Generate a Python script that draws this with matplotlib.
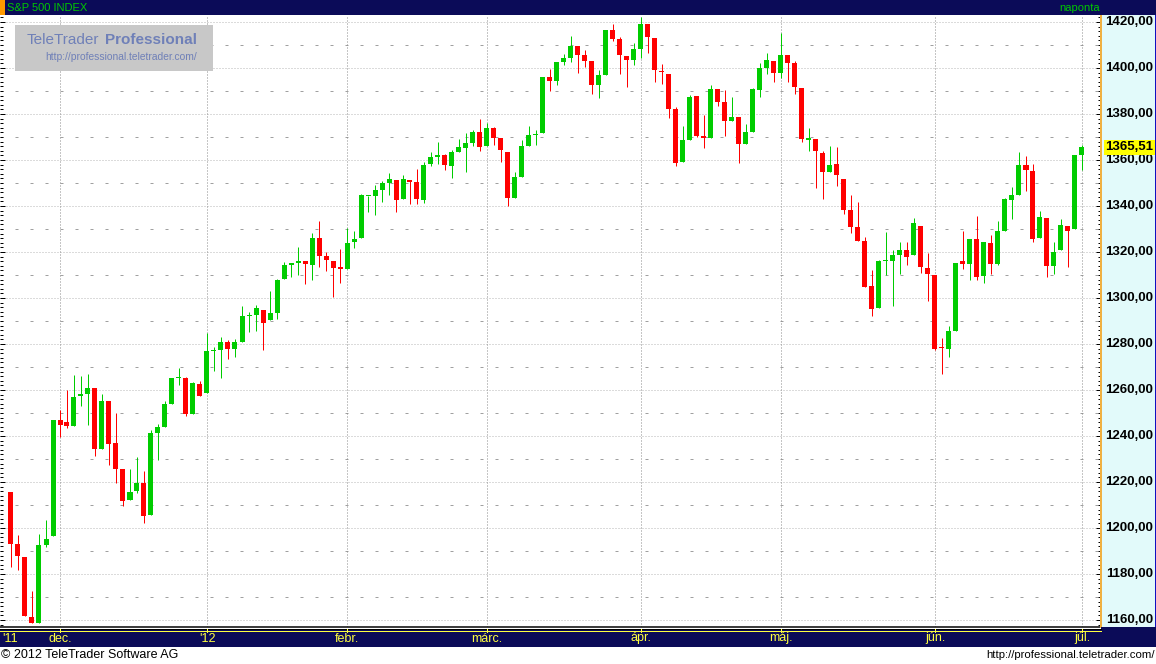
import matplotlib
matplotlib.use('Agg')
import matplotlib.pyplot as plt
from matplotlib.patches import Rectangle
from matplotlib.ticker import MultipleLocator

plt.rcParams['font.family'] = ['Liberation Sans', 'DejaVu Sans']

W, H, DPI = 1156, 664, 100

# daily S&P 500 candles, 21 Nov 2011 .. 2 Jul 2012
dates = [
    '2011-11-21', '2011-11-22', '2011-11-23', '2011-11-25', '2011-11-28', '2011-11-29', '2011-11-30',
    '2011-12-01', '2011-12-02', '2011-12-05', '2011-12-06', '2011-12-07', '2011-12-08', '2011-12-09',
    '2011-12-12', '2011-12-13', '2011-12-14', '2011-12-15', '2011-12-16', '2011-12-19', '2011-12-20',
    '2011-12-21', '2011-12-22', '2011-12-23', '2011-12-27', '2011-12-28', '2011-12-29', '2011-12-30',
    '2012-01-03', '2012-01-04', '2012-01-05', '2012-01-06', '2012-01-09', '2012-01-10', '2012-01-11',
    '2012-01-12', '2012-01-13', '2012-01-17', '2012-01-18', '2012-01-19', '2012-01-20', '2012-01-23',
    '2012-01-24', '2012-01-25', '2012-01-26', '2012-01-27', '2012-01-30', '2012-01-31',
    '2012-02-01', '2012-02-02', '2012-02-03', '2012-02-06', '2012-02-07', '2012-02-08', '2012-02-09',
    '2012-02-10', '2012-02-13', '2012-02-14', '2012-02-15', '2012-02-16', '2012-02-17', '2012-02-21',
    '2012-02-22', '2012-02-23', '2012-02-24', '2012-02-27', '2012-02-28', '2012-02-29',
    '2012-03-01', '2012-03-02', '2012-03-05', '2012-03-06', '2012-03-07', '2012-03-08', '2012-03-09',
    '2012-03-12', '2012-03-13', '2012-03-14', '2012-03-15', '2012-03-16', '2012-03-19', '2012-03-20',
    '2012-03-21', '2012-03-22', '2012-03-23', '2012-03-26', '2012-03-27', '2012-03-28', '2012-03-29',
    '2012-03-30',
    '2012-04-02', '2012-04-03', '2012-04-04', '2012-04-05', '2012-04-09', '2012-04-10', '2012-04-11',
    '2012-04-12', '2012-04-13', '2012-04-16', '2012-04-17', '2012-04-18', '2012-04-19', '2012-04-20',
    '2012-04-23', '2012-04-24', '2012-04-25', '2012-04-26', '2012-04-27', '2012-04-30',
    '2012-05-01', '2012-05-02', '2012-05-03', '2012-05-04', '2012-05-07', '2012-05-08', '2012-05-09',
    '2012-05-10', '2012-05-11', '2012-05-14', '2012-05-15', '2012-05-16', '2012-05-17', '2012-05-18',
    '2012-05-21', '2012-05-22', '2012-05-23', '2012-05-24', '2012-05-25', '2012-05-29', '2012-05-30',
    '2012-05-31',
    '2012-06-01', '2012-06-04', '2012-06-05', '2012-06-06', '2012-06-07', '2012-06-08', '2012-06-11',
    '2012-06-12', '2012-06-13', '2012-06-14', '2012-06-15', '2012-06-18', '2012-06-19', '2012-06-20',
    '2012-06-21', '2012-06-22', '2012-06-25', '2012-06-26', '2012-06-27', '2012-06-28', '2012-06-29',
    '2012-07-02',
]

opens = [
    1215.62, 1192.98, 1187.48, 1161.41, 1158.67, 1192.56, 1196.72,
    1246.91, 1246.03, 1244.33, 1257.19, 1258.14, 1260.87, 1234.48, 1255.05, 1236.83, 1225.73, 1212.12,
    1216.09, 1219.74, 1205.72, 1241.25, 1243.72, 1254.00, 1265.02, 1265.38, 1249.75, 1262.82,
    1258.86, 1277.03, 1277.30, 1280.93, 1277.83, 1280.77, 1292.02, 1292.48, 1294.82, 1290.22, 1293.65,
    1308.07, 1314.49, 1315.29, 1315.96, 1314.40, 1326.28, 1318.25, 1316.16, 1313.53,
    1312.45, 1324.24, 1326.21, 1344.32, 1344.33, 1347.04, 1349.97, 1351.21, 1343.06, 1351.30, 1350.52,
    1342.61, 1358.06, 1361.22, 1362.11, 1357.53, 1363.46, 1365.20, 1367.56, 1372.20,
    1365.90, 1374.09, 1369.59, 1363.63, 1343.39, 1352.65, 1365.97, 1370.78, 1371.92, 1395.95, 1394.17,
    1402.55, 1404.17, 1409.59, 1405.52, 1402.89, 1392.78, 1397.11, 1416.55, 1412.52, 1405.39, 1403.31,
    1408.47, 1418.98, 1413.09, 1398.79, 1397.45, 1382.18, 1358.98, 1368.77, 1387.61, 1370.27, 1369.57,
    1390.78, 1385.08, 1376.96, 1378.53, 1366.97, 1372.11, 1390.64, 1400.19, 1403.26,
    1397.86, 1405.50, 1402.32, 1391.51, 1368.79, 1369.16, 1363.20, 1354.58, 1358.11, 1351.93, 1338.36,
    1330.78, 1324.82, 1305.05, 1295.73, 1316.09, 1316.02, 1318.72, 1320.81, 1318.90, 1331.25, 1313.09,
    1309.87, 1278.29, 1277.82, 1285.61, 1316.15, 1314.99, 1325.72, 1309.40, 1324.02, 1314.88, 1329.19,
    1342.42, 1344.83, 1358.04, 1355.43, 1325.92, 1334.90, 1314.09, 1320.71, 1331.52, 1330.12,
    1362.33,
]

highs = [
    1215.62, 1196.81, 1187.48, 1172.66, 1197.35, 1203.67, 1247.11,
    1251.09, 1260.08, 1266.73, 1266.03, 1267.06, 1260.87, 1258.25, 1255.05, 1249.86, 1225.73, 1225.60,
    1231.04, 1224.57, 1242.82, 1245.09, 1255.22, 1265.42, 1269.37, 1265.85, 1263.54, 1264.12,
    1284.62, 1278.73, 1283.05, 1281.84, 1281.99, 1296.46, 1293.80, 1296.82, 1294.82, 1303.00, 1308.11,
    1315.49, 1315.38, 1322.28, 1315.96, 1328.30, 1333.47, 1320.06, 1316.16, 1321.41,
    1330.52, 1329.19, 1345.34, 1344.36, 1349.24, 1351.00, 1354.32, 1351.21, 1353.35, 1351.30, 1355.87,
    1359.02, 1363.40, 1367.76, 1362.70, 1364.24, 1368.92, 1371.94, 1373.09, 1378.04,
    1376.17, 1374.53, 1369.59, 1363.63, 1354.85, 1368.72, 1374.76, 1373.04, 1396.13, 1399.42, 1402.63,
    1405.88, 1414.00, 1409.59, 1407.75, 1402.89, 1399.18, 1416.58, 1419.15, 1413.65, 1405.39, 1410.89,
    1422.38, 1419.00, 1413.09, 1401.60, 1397.45, 1383.01, 1374.71, 1388.13, 1387.61, 1379.66, 1392.76,
    1390.78, 1390.46, 1387.40, 1378.53, 1375.57, 1391.37, 1402.09, 1406.64, 1403.26,
    1415.32, 1405.50, 1403.07, 1391.51, 1373.91, 1369.16, 1363.73, 1365.88, 1365.66, 1351.93, 1344.94,
    1341.78, 1326.36, 1312.24, 1316.39, 1328.49, 1320.71, 1324.14, 1324.20, 1334.93, 1331.25, 1319.74,
    1309.87, 1282.55, 1287.62, 1315.13, 1329.05, 1325.81, 1335.52, 1324.31, 1327.28, 1333.68, 1343.32,
    1348.22, 1363.46, 1361.57, 1358.27, 1337.82, 1334.90, 1324.24, 1334.40, 1331.52, 1362.17,
    1366.35,
]

lows = [
    1183.16, 1181.65, 1161.79, 1158.66, 1158.67, 1191.80, 1196.72,
    1239.73, 1243.35, 1244.33, 1253.03, 1244.80, 1231.47, 1234.48, 1227.25, 1219.43, 1209.47, 1212.12,
    1215.20, 1202.37, 1205.72, 1229.51, 1243.72, 1254.00, 1262.30, 1248.64, 1249.75, 1257.46,
    1258.86, 1268.10, 1265.26, 1273.34, 1274.55, 1280.77, 1285.41, 1285.77, 1277.58, 1290.22, 1290.99,
    1308.07, 1309.17, 1309.89, 1306.06, 1307.65, 1313.60, 1311.72, 1300.49, 1306.69,
    1312.45, 1321.57, 1326.21, 1337.52, 1335.92, 1341.95, 1344.63, 1337.35, 1343.06, 1340.83, 1340.80,
    1341.22, 1357.24, 1358.11, 1355.53, 1352.28, 1363.46, 1354.92, 1365.97, 1363.81,
    1365.90, 1366.42, 1359.13, 1340.03, 1343.39, 1352.65, 1365.97, 1366.69, 1371.92, 1389.97, 1392.78,
    1401.47, 1402.43, 1397.68, 1400.64, 1388.73, 1386.87, 1397.11, 1411.95, 1397.20, 1391.56, 1401.42,
    1404.46, 1406.46, 1394.09, 1392.92, 1378.24, 1357.38, 1358.98, 1368.77, 1369.85, 1365.38, 1369.57,
    1383.29, 1370.30, 1376.96, 1358.79, 1366.82, 1372.11, 1387.28, 1397.31, 1394.00,
    1395.73, 1393.92, 1388.71, 1367.96, 1363.94, 1347.75, 1343.13, 1354.58, 1348.89, 1336.61, 1328.41,
    1324.79, 1304.86, 1291.98, 1295.73, 1310.04, 1296.53, 1310.50, 1314.23, 1318.90, 1310.76, 1298.90,
    1277.25, 1266.74, 1274.16, 1285.61, 1312.68, 1307.77, 1307.73, 1306.62, 1310.51, 1314.14, 1329.19,
    1334.46, 1344.83, 1346.45, 1324.41, 1325.92, 1309.27, 1310.30, 1320.71, 1313.29, 1330.12,
    1355.70,
]

closes = [
    1192.98, 1188.04, 1161.79, 1158.67, 1192.55, 1195.19, 1246.96,
    1244.58, 1244.28, 1257.08, 1258.47, 1261.01, 1234.35, 1255.19, 1236.47, 1225.73, 1211.82, 1215.75,
    1219.66, 1205.35, 1241.30, 1243.72, 1254.00, 1265.33, 1265.43, 1249.64, 1263.02, 1257.60,
    1277.06, 1277.30, 1281.06, 1277.81, 1280.70, 1292.08, 1292.48, 1295.50, 1289.09, 1293.67, 1308.04,
    1314.50, 1315.38, 1316.00, 1314.65, 1326.06, 1318.43, 1316.33, 1313.01, 1312.41,
    1324.09, 1325.54, 1344.90, 1344.33, 1347.05, 1349.96, 1351.95, 1342.64, 1351.77, 1350.50, 1343.23,
    1358.04, 1361.23, 1362.21, 1357.66, 1363.46, 1365.74, 1367.59, 1372.18, 1365.68,
    1374.09, 1369.63, 1364.33, 1343.36, 1352.63, 1365.91, 1370.87, 1371.09, 1395.95, 1394.28, 1402.60,
    1404.17, 1409.75, 1405.52, 1402.89, 1392.78, 1397.11, 1416.51, 1412.52, 1405.54, 1403.28, 1408.47,
    1419.04, 1413.38, 1398.96, 1398.08, 1382.20, 1358.59, 1368.71, 1387.57, 1370.26, 1369.57, 1390.78,
    1385.14, 1376.92, 1378.53, 1366.94, 1371.97, 1390.69, 1399.98, 1403.36, 1397.91,
    1405.82, 1402.31, 1391.57, 1369.10, 1369.58, 1363.72, 1354.58, 1357.99, 1353.39, 1338.35, 1330.66,
    1324.80, 1304.86, 1295.22, 1315.99, 1316.63, 1318.86, 1320.68, 1317.82, 1332.42, 1313.32, 1310.33,
    1278.04, 1278.18, 1285.50, 1315.13, 1314.99, 1325.66, 1308.93, 1324.18, 1314.88, 1329.10, 1342.84,
    1344.78, 1357.98, 1355.69, 1325.51, 1335.02, 1313.72, 1319.99, 1331.85, 1329.04, 1362.16,
    1365.51,
]

month_names = {12: 'dec.', 1: "'12", 2: 'febr.', 3: 'márc.', 4: 'ápr.', 5: 'máj.', 6: 'jún.', 7: 'júl.'}
price_ticks = list(range(1160, 1421, 20))
last_price = closes[-1]

NAVY = '#0b0b58'
UP, DOWN = '#00cc00', '#ff0000'
PX = 72 / DPI  # one pixel in points

# pixel -> data mapping of the main panel
x0px, x_step = 11, 7.0
y1420, y_scale = 22, 2.3


def box(l, t, r, b):
    return [l / W, 1 - b / H, (r - l) / W, (b - t) / H]


def xdata(px):
    return (px - x0px) / x_step


def ydata(py):
    return 1420 - (py - y1420) / y_scale


fig = plt.figure(figsize=(W / DPI, H / DPI), dpi=DPI)
fig.patch.set_facecolor('white')

# main candle panel
ax = fig.add_axes(box(0, 15, 1101, 627))
ax.set_xlim(xdata(0), xdata(1101))
ax.set_ylim(ydata(627), ydata(15))
for s in ['left', 'top', 'right']:
    ax.spines[s].set_visible(False)
ax.spines['bottom'].set_linewidth(1.5 * PX)
ax.spines['bottom'].set_color('black')

ax.yaxis.set_major_locator(MultipleLocator(20))
ax.yaxis.set_minor_locator(MultipleLocator(2))
ax.tick_params(axis='y', which='major', direction='in', length=5 * PX, width=PX,
               left=True, right=True, labelleft=False, labelright=False)
ax.tick_params(axis='y', which='minor', direction='in', length=3 * PX, width=PX,
               left=True, right=True)
ax.set_xticks([])

# grid lines
for p in price_ticks:
    ax.axhline(p, color='#b8b8b8', lw=PX, ls=(0, (1, 2)), zorder=0)
for p in range(1170, 1420, 20):
    ax.axhline(p, color='#a0a0a0', lw=PX, ls=(0, (3, 12)), zorder=0)

month_idx = []
for i in range(1, len(dates)):
    if dates[i][5:7] != dates[i - 1][5:7]:
        month_idx.append(i)
for i in month_idx:
    ax.axvline(i, color='#8c8c8c', lw=PX, ls=(0, (1, 2)), zorder=0)

# candles
xs = list(range(len(dates)))
cols = [UP if c >= o else DOWN for o, c in zip(opens, closes)]
ax.vlines(xs, lows, highs, colors=cols, lw=PX, zorder=2)
bottoms = [min(o, c) for o, c in zip(opens, closes)]
heights = [max(abs(c - o), 0.45) for o, c in zip(opens, closes)]
ax.bar(xs, heights, bottom=bottoms, width=5 / x_step, color=cols, lw=0, zorder=3)

# price scale panel
ax2 = fig.add_axes(box(1101, 15, 1156, 627))
ax2.set_facecolor('#e2fafa')
ax2.set_xlim(0, 1)
ax2.set_ylim(ydata(627), ydata(15))
ax2.set_xticks([])
ax2.set_yticks([])
for s in ['top', 'bottom']:
    ax2.spines[s].set_visible(False)
ax2.spines['left'].set_color('#f0b040')
ax2.spines['left'].set_linewidth(2 * PX)
ax2.spines['right'].set_color('#1010c0')
ax2.spines['right'].set_linewidth(3 * PX)
for p in price_ticks:
    ax2.text(0.95, p, f'{p:.2f}'.replace('.', ','), ha='right', va='center',
             fontsize=9.5, fontweight='bold', color='black')
ax2.text(0.95, last_price, f'{last_price:.2f}'.replace('.', ','), ha='right', va='center',
         fontsize=9.5, fontweight='bold', color='black',
         bbox=dict(boxstyle='square,pad=0.1', fc='#ffff00', ec='none'), zorder=5)

# decorations in pixel coordinates
ov = fig.add_axes([0, 0, 1, 1], zorder=10)
ov.set_xlim(0, W)
ov.set_ylim(H, 0)
ov.axis('off')
ov.patch.set_alpha(0)

ov.add_patch(Rectangle((0, 0), W, 15, fc=NAVY, ec='none'))
ov.add_patch(Rectangle((0, 0), 5, 15, fc='#ff9900', ec='none'))
ov.text(7, 8, 'S&P 500 INDEX', color='#00c800', fontsize=8, va='center', ha='left')
ov.text(1100, 8, 'naponta', color='#00c800', fontsize=8, va='center', ha='right')

# date bar
ov.plot([0, 1101], [629, 629], color='black', lw=PX)
ov.add_patch(Rectangle((0, 630), W, 17, fc=NAVY, ec='none'))
ov.plot([0, 1101], [630.5, 630.5], color='#ffff40', lw=PX)
ov.add_patch(Rectangle((1101, 627), 55, 20, fc=NAVY, ec='none'))
ov.text(2, 638.5, "'11", color='#ffff40', fontsize=9, va='center', ha='left')
for i in month_idx:
    xp = x0px + x_step * i
    ov.plot([xp, xp], [629, 632], color='#ffff40', lw=PX)
    ov.text(xp, 638.5, month_names[int(dates[i][5:7])], color='#ffff40',
            fontsize=9, va='center', ha='center')

# footer
ov.text(1, 655.5, '© 2012 TeleTrader Software AG', color='black', fontsize=9,
        va='center', ha='left')
ov.text(1155, 655.5, 'http://professional.teletrader.com/', color='black', fontsize=8.2,
        va='center', ha='right')

# logo
ov.add_patch(Rectangle((15, 25), 198, 46, fc='#c8c8c8', ec='none'))
ov.text(27, 40, 'TeleTrader', color='#6f80b8', fontsize=11, va='center', ha='left')
ov.text(197, 40, 'Professional', color='#6f80b8', fontsize=11, fontweight='bold',
        va='center', ha='right')
ov.text(197, 57, 'http://professional.teletrader.com/', color='#6f80b8', fontsize=7.4,
        va='center', ha='right')

fig.savefig('out.png', dpi=DPI)
